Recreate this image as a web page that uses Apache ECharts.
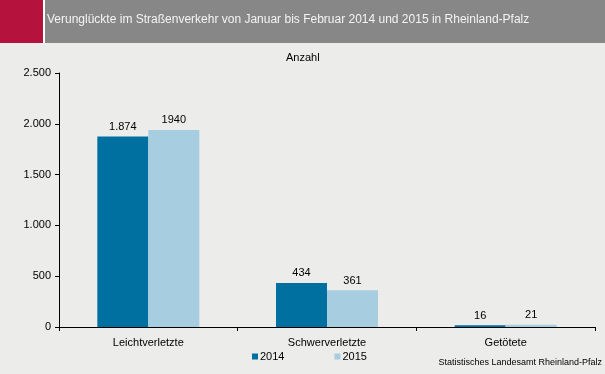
<!DOCTYPE html>
<html><head><meta charset="utf-8">
<script src="https://cdn.jsdelivr.net/npm/echarts@6/dist/echarts.min.js"></script>
<style>html,body{margin:0;padding:0;background:#ECEDEB;}#c{width:605px;height:374px;}</style>
</head><body><div id="c"></div>
<script>
const categories = ['Leichtverletzte', 'Schwerverletzte', 'Getötete'];
const values2014 = [1874, 434, 16];
const values2015 = [1940, 361, 21];
const labels2014 = ['1.874', '434', '16'];
const labels2015 = ['1940', '361', '21'];
const seriesNames = ['2014', '2015'];
const yTicks = [0, 500, 1000, 1500, 2000, 2500];
const yTickLabels = ['0', '500', '1.000', '1.500', '2.000', '2.500'];

const chart = echarts.init(document.getElementById('c'), null, {renderer: 'canvas'});
const font = 'Liberation Sans, Arial, sans-serif';
chart.setOption({
  backgroundColor: '#ECEDEB',
  animation: false,
  textStyle: {fontFamily: font},
  graphic: [
    {type: 'rect', shape: {x: 0, y: 0, width: 43, height: 43}, style: {fill: '#B5123E'}},
    {type: 'rect', shape: {x: 43, y: 0, width: 2, height: 43}, style: {fill: '#FFFFFF'}},
    {type: 'rect', shape: {x: 45, y: 0, width: 560, height: 43}, style: {fill: '#878787'}},
    {type: 'text', left: 47, top: 14, style: {text: 'Verunglückte im Straßenverkehr von Januar bis Februar 2014 und 2015 in Rheinland-Pfalz', fill: '#F4F4F4', font: '12px ' + font}},
    {type: 'text', left: 286, top: 52, style: {text: 'Anzahl', fill: '#000000', font: '11px ' + font}},
    {type: 'text', right: 3, top: 358, style: {text: 'Statistisches Landesamt Rheinland-Pfalz', fill: '#000000', font: '9px ' + font}}
  ],
  legend: {
    left: 247, top: 346, itemWidth: 6, itemHeight: 6, itemGap: 50, icon: 'rect',
    textStyle: {fontSize: 11, color: '#000', padding: [0, 0, 0, -3]},
    data: seriesNames
  },
  grid: {left: 59, right: 10, top: 73, bottom: 47, containLabel: false},
  xAxis: {
    type: 'category', data: categories,
    axisLine: {lineStyle: {color: '#000', width: 1}},
    axisTick: {show: true, length: 4, lineStyle: {color: '#000'}},
    axisLabel: {color: '#000', fontSize: 11, margin: 10}
  },
  yAxis: {
    type: 'value', min: 0, max: 2500, interval: 500,
    axisLine: {show: true, lineStyle: {color: '#000', width: 1}},
    axisTick: {show: true, length: 4, lineStyle: {color: '#000'}},
    splitLine: {show: false},
    axisLabel: {color: '#000', fontSize: 11, margin: 8,
      formatter: v => yTickLabels[yTicks.indexOf(v)]}
  },
  series: [
    {name: seriesNames[0], type: 'bar', data: values2014, barWidth: 51, barGap: '0%',
     itemStyle: {color: '#0070A0'},
     label: {show: true, position: 'top', color: '#000', fontSize: 11, distance: 4,
       formatter: p => labels2014[p.dataIndex]}},
    {name: seriesNames[1], type: 'bar', data: values2015, barWidth: 51, barGap: '0%',
     itemStyle: {color: '#A6CEE0'},
     label: {show: true, position: 'top', color: '#000', fontSize: 11, distance: 4,
       formatter: p => labels2015[p.dataIndex]}}
  ]
});
</script></body></html>
